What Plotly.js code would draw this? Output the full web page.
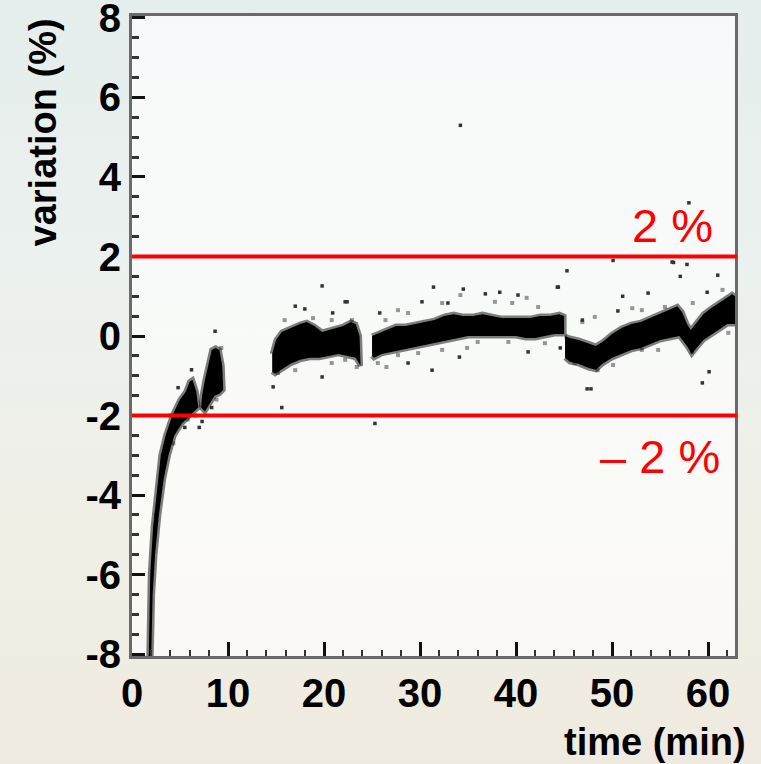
<!DOCTYPE html>
<html>
<head>
<meta charset="utf-8">
<script src="https://cdn.plot.ly/plotly-3.0.1.min.js"></script>
<style>
  html, body { margin: 0; padding: 0; }
  body {
    width: 761px; height: 764px; overflow: hidden;
    background: linear-gradient(to bottom, #e5eeed 0%, #ebf1ee 35%, #f0efe6 70%, #efeadf 100%);
  }
  #chart { width: 761px; height: 764px; }
</style>
</head>
<body>
<div id="chart"></div>
<script>
// ---- data (time in min, variation in %) ----
// dense bands of points, given as outlines (upper edge then lower edge back)
const seg1aX = [1.75, 1.9, 2.2, 2.6, 3.0, 3.5, 4.2, 5.0, 5.6, 6.0, 6.3, 6.7, 6.9, 6.0, 5.2, 4.4, 3.8, 3.3, 2.8, 2.4, 2.15, 2.0];
const seg1aY = [-8.05, -6.0, -4.8, -3.8, -3.0, -2.5, -2.0, -1.6, -1.4, -1.15, -1.1, -1.4, -1.8, -2.0, -2.2, -2.5, -3.0, -3.6, -4.5, -5.5, -6.5, -8.05];

const seg1bX = [7.2, 7.3, 7.6, 8.0, 8.3, 8.7, 9.1, 9.4, 9.5, 9.1, 8.6, 8.1, 7.6, 7.2];
const seg1bY = [-1.8, -1.5, -1.1, -0.6, -0.35, -0.3, -0.35, -0.75, -1.35, -1.45, -1.5, -1.7, -1.9, -1.8];

const seg2X = [14.6, 15.0, 15.6, 16.5, 17.5, 18.2, 19.0, 19.8, 20.5, 21.2, 22.0, 22.8, 23.3, 23.7,
               23.8, 23.3, 22.5, 21.5, 20.5, 19.5, 18.5, 17.5, 16.5, 15.5, 14.9, 14.6];
const seg2Y = [-0.45, -0.1, 0.1, 0.2, 0.3, 0.35, 0.25, 0.1, 0.15, 0.2, 0.25, 0.35, 0.3, 0.0,
               -0.75, -0.55, -0.5, -0.45, -0.5, -0.55, -0.55, -0.6, -0.7, -0.85, -0.95, -0.9];

const seg3X = [25.0, 25.5, 26.5, 27.5, 28.5, 29.5, 30.5, 31.5, 32.5, 33.5, 34.5, 35.5, 36.5, 37.5, 38.5, 39.5, 40.5, 41.5, 42.5, 43.5, 44.5, 45.0,
               45.0, 44.0, 43.0, 42.0, 41.0, 40.0, 39.0, 38.0, 37.0, 36.0, 35.0, 34.0, 33.0, 32.0, 31.0, 30.0, 29.0, 28.0, 27.0, 26.0, 25.2, 25.0];
const seg3Y = [0.0, 0.05, 0.15, 0.25, 0.25, 0.3, 0.35, 0.4, 0.5, 0.55, 0.5, 0.5, 0.55, 0.5, 0.45, 0.45, 0.45, 0.45, 0.5, 0.5, 0.55, 0.5,
               0.05, 0.05, 0.0, -0.05, -0.05, 0.0, 0.0, 0.0, 0.0, 0.0, 0.0, -0.05, -0.1, -0.15, -0.2, -0.25, -0.3, -0.35, -0.4, -0.45, -0.55, -0.5];

const seg4X = [45.1, 45.6, 46.5, 47.5, 48.3, 49.0, 50.0, 51.0, 52.0, 53.0, 54.0, 55.0, 56.0, 56.8, 57.3, 57.8, 58.2, 58.8, 59.5, 60.3, 61.0, 61.8, 62.5, 62.8,
               62.8, 62.0, 61.0, 60.3, 59.5, 58.8, 58.3, 57.8, 57.0, 56.0, 55.0, 54.0, 53.0, 52.0, 51.0, 50.0, 49.0, 48.3, 47.5, 46.5, 45.6, 45.1];
const seg4Y = [0.0, -0.05, -0.1, -0.2, -0.25, -0.15, 0.05, 0.2, 0.3, 0.35, 0.45, 0.55, 0.65, 0.75, 0.6, 0.3, 0.15, 0.35, 0.55, 0.7, 0.8, 0.95, 1.05, 1.0,
               0.3, 0.3, 0.15, 0.05, -0.1, -0.3, -0.45, -0.25, 0.0, -0.05, -0.1, -0.2, -0.3, -0.35, -0.45, -0.55, -0.7, -0.85, -0.8, -0.7, -0.65, -0.55];

// isolated dark points
const outlierX = [8.65, 7.3, 3.95, 8.3, 5.5, 6.6, 7.0, 4.8, 6.2,
                  14.7, 15.6, 17.0, 18.0, 19.8, 20.9, 22.4, 25.3, 19.8, 22.2,
                  31.4, 34.5, 36.8, 38.3, 40.2, 44.3, 30.2, 32.9, 25.8, 31.25, 34.1, 41.25, 28.75, 44.6, 34.2,
                  45.3, 50.1, 56.4, 57.8, 61.0, 44.4, 51.1, 53.75, 57.1, 59.9, 47.4, 47.8, 59.4, 60.1, 50.6, 46.9, 58.0, 56.25];
const outlierY = [0.12, -2.15, -2.0, -1.8, -2.3, -2.0, -2.3, -1.3, -0.85,
                  -1.28, -1.8, 0.75, 0.68, -1.03, 0.58, 0.86, -2.2, 1.26, 0.86,
                  1.23, 1.18, 1.06, 1.1, 1.03, 1.23, 0.86, 0.83, 0.58, -0.86, -0.53, -0.4, -0.68, -0.3, 5.3,
                  1.64, 1.9, 1.85, 1.8, 1.53, 1.23, 1.0, 1.08, 1.5, 1.1, -1.33, -1.33, -1.18, -0.9, 0.63, 0.4, 3.35, 1.86];

// lighter points scattered just outside the dense bands
const fuzzX = [4.3, 3.0, 2.5, 5.8, 6.4, 8.8, 9.3,
               15.9, 18.85, 20.8, 22.9, 15.2, 17.0, 20.8, 22.2, 23.4,
               32.3, 34.2, 37.8, 39.6, 41.1, 42.3, 27.7, 26.4, 28.75, 25.6, 26.5, 27.7, 29.8, 32.3, 34.9, 36.0, 39.2, 43.0,
               48.2, 46.9, 52.1, 53.1, 55.5, 58.4, 61.5, 46.1, 48.5, 50.1, 53.1, 54.8, 58.3, 62.1];
const fuzzY = [-2.7, -3.5, -4.5, -2.1, -1.7, -1.6, -0.3,
               0.4, 0.45, 0.4, 0.4, -0.93, -0.86, -0.68, -0.6, -0.78,
               0.83, 1.03, 0.86, 0.83, 0.96, 0.73, 0.65, 0.4, 0.58, -0.68, -0.78, -0.48, -0.43, -0.35, -0.3, -0.15, -0.15, -0.18,
               0.48, 0.35, 0.7, 0.65, 0.73, 0.83, 1.16, -0.68, -0.86, -0.73, -0.35, -0.35, -0.4, 0.08];

const limits = [2, -2];
const limitLabels = ['2 %', '\u2013 2 %'];
const limitLabelY = [2.77, -3.04];

const xTicks = [0, 10, 20, 30, 40, 50, 60];
const yTicks = [-8, -6, -4, -2, 0, 2, 4, 6, 8];

// ---- drawing ----
const bandStyle = {
  type: 'scatter', mode: 'lines', fill: 'toself',
  fillcolor: '#000000',
  line: { color: 'rgba(0,0,0,0.5)', width: 5 },
  hoverinfo: 'skip', showlegend: false
};
const bands = [[seg1aX, seg1aY], [seg1bX, seg1bY], [seg2X, seg2Y], [seg3X, seg3Y], [seg4X, seg4Y]];
const traces = bands.map(([x, y]) => Object.assign({}, bandStyle, { x: x, y: y }));
traces.push({
  type: 'scatter', mode: 'markers', x: fuzzX, y: fuzzY,
  marker: { symbol: 'square', size: 4, color: 'rgba(0,0,0,0.4)' },
  hoverinfo: 'skip', showlegend: false
});
traces.push({
  type: 'scatter', mode: 'markers', x: outlierX, y: outlierY,
  marker: { symbol: 'square', size: 3.5, color: '#333333' },
  hoverinfo: 'skip', showlegend: false
});

const axFont = { family: '"Liberation Sans", Arial, sans-serif', size: 40, color: '#000', weight: 'bold' };
const titleFont = { family: '"Liberation Sans", Arial, sans-serif', size: 38, color: '#000', weight: 'bold' };
const redFont = { family: '"Liberation Sans", Arial, sans-serif', size: 47, color: '#ff0000' };

const annotations = [
  { xref: 'paper', yref: 'paper', x: -0.146, y: 0.818, text: 'variation (%)', textangle: -90,
    showarrow: false, xanchor: 'center', yanchor: 'middle', font: titleFont },
  { xref: 'paper', yref: 'paper', x: 1.022, y: -0.134, text: 'time (min)',
    showarrow: false, xanchor: 'right', yanchor: 'middle', font: titleFont }
];
limits.forEach((v, i) => {
  annotations.push({ xref: 'paper', yref: 'y', x: i === 0 ? 0.967 : 0.978, y: limitLabelY[i], text: limitLabels[i],
    showarrow: false, xanchor: 'right', yanchor: 'middle', font: redFont });
});

const layout = {
  width: 761, height: 764,
  margin: { l: 132, r: 26, t: 16, b: 108, pad: 0 },
  paper_bgcolor: 'rgba(0,0,0,0)',
  plot_bgcolor: 'rgba(255,255,255,0.65)',
  showlegend: false,
  xaxis: {
    range: [0, 62.8], tickvals: xTicks, ticktext: xTicks.map(String),
    ticks: 'inside', ticklen: 14, tickwidth: 3, tickcolor: '#111',
    minor: { dtick: 2, ticks: 'inside', ticklen: 6, tickwidth: 2, tickcolor: '#333' },
    showline: true, linecolor: '#6a6a6a', linewidth: 3, mirror: true,
    showgrid: false, zeroline: false, tickfont: axFont, ticklabeloverflow: 'allow'
  },
  yaxis: {
    range: [-8.05, 8.05], tickvals: yTicks, ticktext: yTicks.map(String),
    ticks: 'inside', ticklen: 13, tickwidth: 3, tickcolor: '#111',
    minor: { dtick: 0.5, ticks: 'inside', ticklen: 7, tickwidth: 3, tickcolor: '#333' },
    showline: true, linecolor: '#6a6a6a', linewidth: 3, mirror: true,
    showgrid: false, zeroline: false, tickfont: axFont, ticklabeloverflow: 'allow'
  },
  shapes: limits.map(v => ({
    type: 'line', xref: 'paper', x0: 0, x1: 1.003, yref: 'y', y0: v, y1: v,
    line: { color: '#ff0000', width: 4 }
  })),
  annotations: annotations
};

Plotly.newPlot('chart', traces, layout, { displayModeBar: false, staticPlot: true });
</script>
</body>
</html>
